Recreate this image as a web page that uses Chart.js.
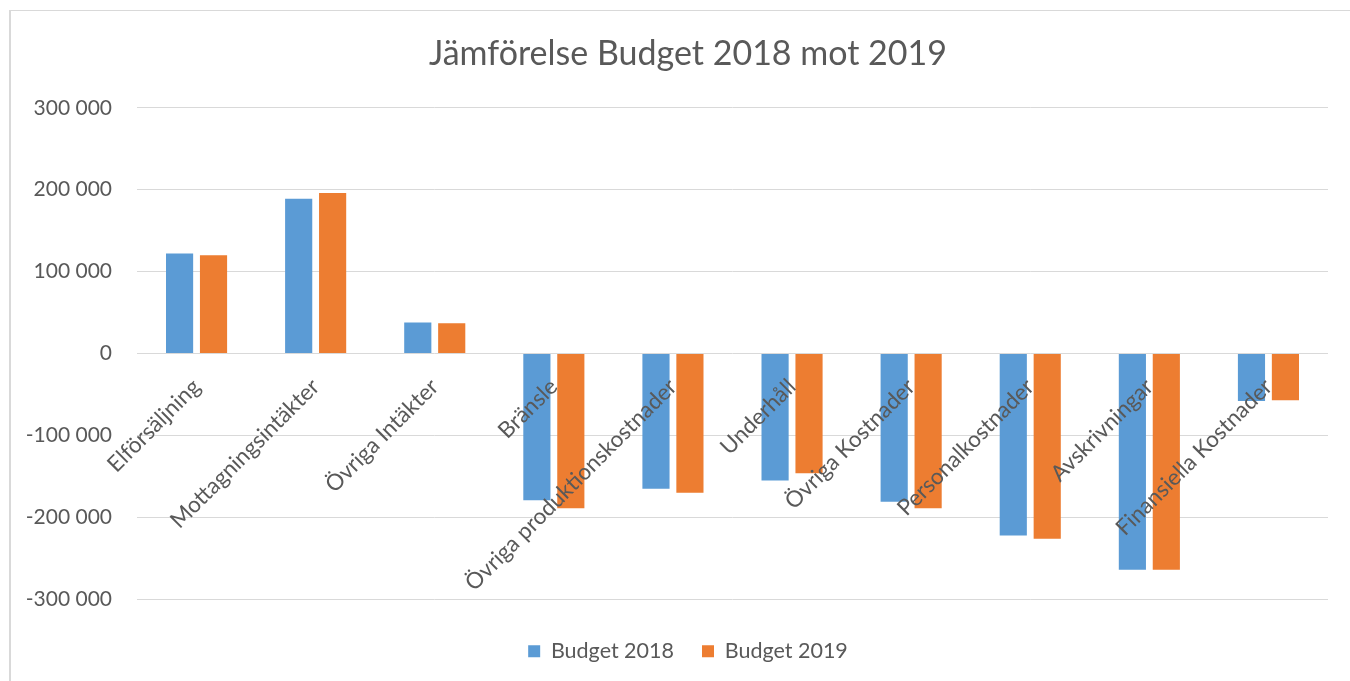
<!DOCTYPE html>
<html>
<head>
<meta charset="utf-8">
<script src="https://cdn.jsdelivr.net/npm/chart.js"></script>
<style>
  html, body { margin: 0; padding: 0; background: #fff; overflow: hidden; }
  #wrap { position: relative; width: 1350px; height: 681px; overflow: hidden; }
  #frame { position: absolute; left: 9px; top: 10px; width: 1400px; height: 700px;
           border-top: 1px solid #d9d9d9; border-left: 2px solid #d9d9d9; }
  canvas { position: absolute; left: 0; top: 0; }
</style>
</head>
<body>
<div id="wrap">
  <div id="frame"></div>
  <!-- the chart frame runs a bit past the right edge of the picture -->
  <canvas id="chart" width="1376" height="681"></canvas>
</div>
<script>
const categories = ['Elförsäljning', 'Mottagningsintäkter', 'Övriga Intäkter', 'Bränsle',
  'Övriga produktionskostnader', 'Underhåll', 'Övriga Kostnader', 'Personalkostnader',
  'Avskrivningar', 'Finansiella Kostnader'];
const budget2018 = [122000, 189000, 38000, -179000, -165000, -155000, -181000, -222000, -264000, -58000];
const budget2019 = [120000, 196000, 37000, -189000, -170000, -146000, -189000, -226000, -264000, -57000];
const yMin = -300000;
const yMax = 300000;
const yStep = 100000;

const FONT = 'Lato, "Open Sans", sans-serif';
const GREY = '#595959';

// 300000 -> "300 000", -100000 -> "-100 000"
function fmt(v) {
  const s = String(Math.abs(v)).replace(/\B(?=(\d{3})+(?!\d))/g, ' ');
  return v < 0 ? '-' + s : s;
}

new Chart(document.getElementById('chart'), {
  type: 'bar',
  data: {
    labels: categories,
    datasets: [
      { label: 'Budget 2018', data: budget2018, backgroundColor: '#5b9bd5' },
      { label: 'Budget 2019', data: budget2019, backgroundColor: '#ed7d31' }
    ]
  },
  options: {
    responsive: false,
    animation: false,
    categoryPercentage: 0.57,
    barPercentage: 0.8,
    layout: { padding: { left: 0, right: 0, top: 0, bottom: 9 } },
    plugins: {
      title: {
        display: true,
        text: 'Jämförelse Budget 2018 mot 2019',
        color: GREY,
        font: { family: FONT, size: 34, weight: 'normal' },
        padding: { top: 34, bottom: 33 }
      },
      legend: {
        position: 'bottom',
        // empty title only used as a spacer above the items
        title: { display: true, text: '', font: { size: 1 }, padding: { top: 0, bottom: 12 } },
        labels: {
          color: GREY,
          boxWidth: 12,
          boxHeight: 12,
          padding: 28,
          font: { family: FONT, size: 21.5 }
        }
      },
      tooltip: { enabled: false }
    },
    scales: {
      x: {
        position: { y: 0 },
        grid: { display: false, drawTicks: false },
        border: { display: false },
        ticks: {
          z: 1, // labels over the bars
          autoSkip: false,
          minRotation: 45,
          maxRotation: 45,
          padding: 20,
          color: GREY,
          font: { family: FONT, size: 22.5 }
        },
        afterFit(s) { s.height = 0; s.paddingLeft = 0; s.paddingRight = 0; }
      },
      y: {
        min: yMin,
        max: yMax,
        grid: { color: '#d9d9d9', drawTicks: false },
        border: { display: false },
        ticks: {
          stepSize: yStep,
          padding: 25,
          color: GREY,
          font: { family: FONT, size: 21 },
          callback: v => fmt(v)
        },
        afterFit(s) { s.width = 137; }
      },
      // empty gutter on the right of the plot
      gutter: {
        type: 'linear',
        position: 'right',
        grid: { display: false },
        border: { display: false },
        ticks: { display: false },
        afterFit(s) { s.width = 48; }
      }
    }
  }
});
</script>
</body>
</html>
